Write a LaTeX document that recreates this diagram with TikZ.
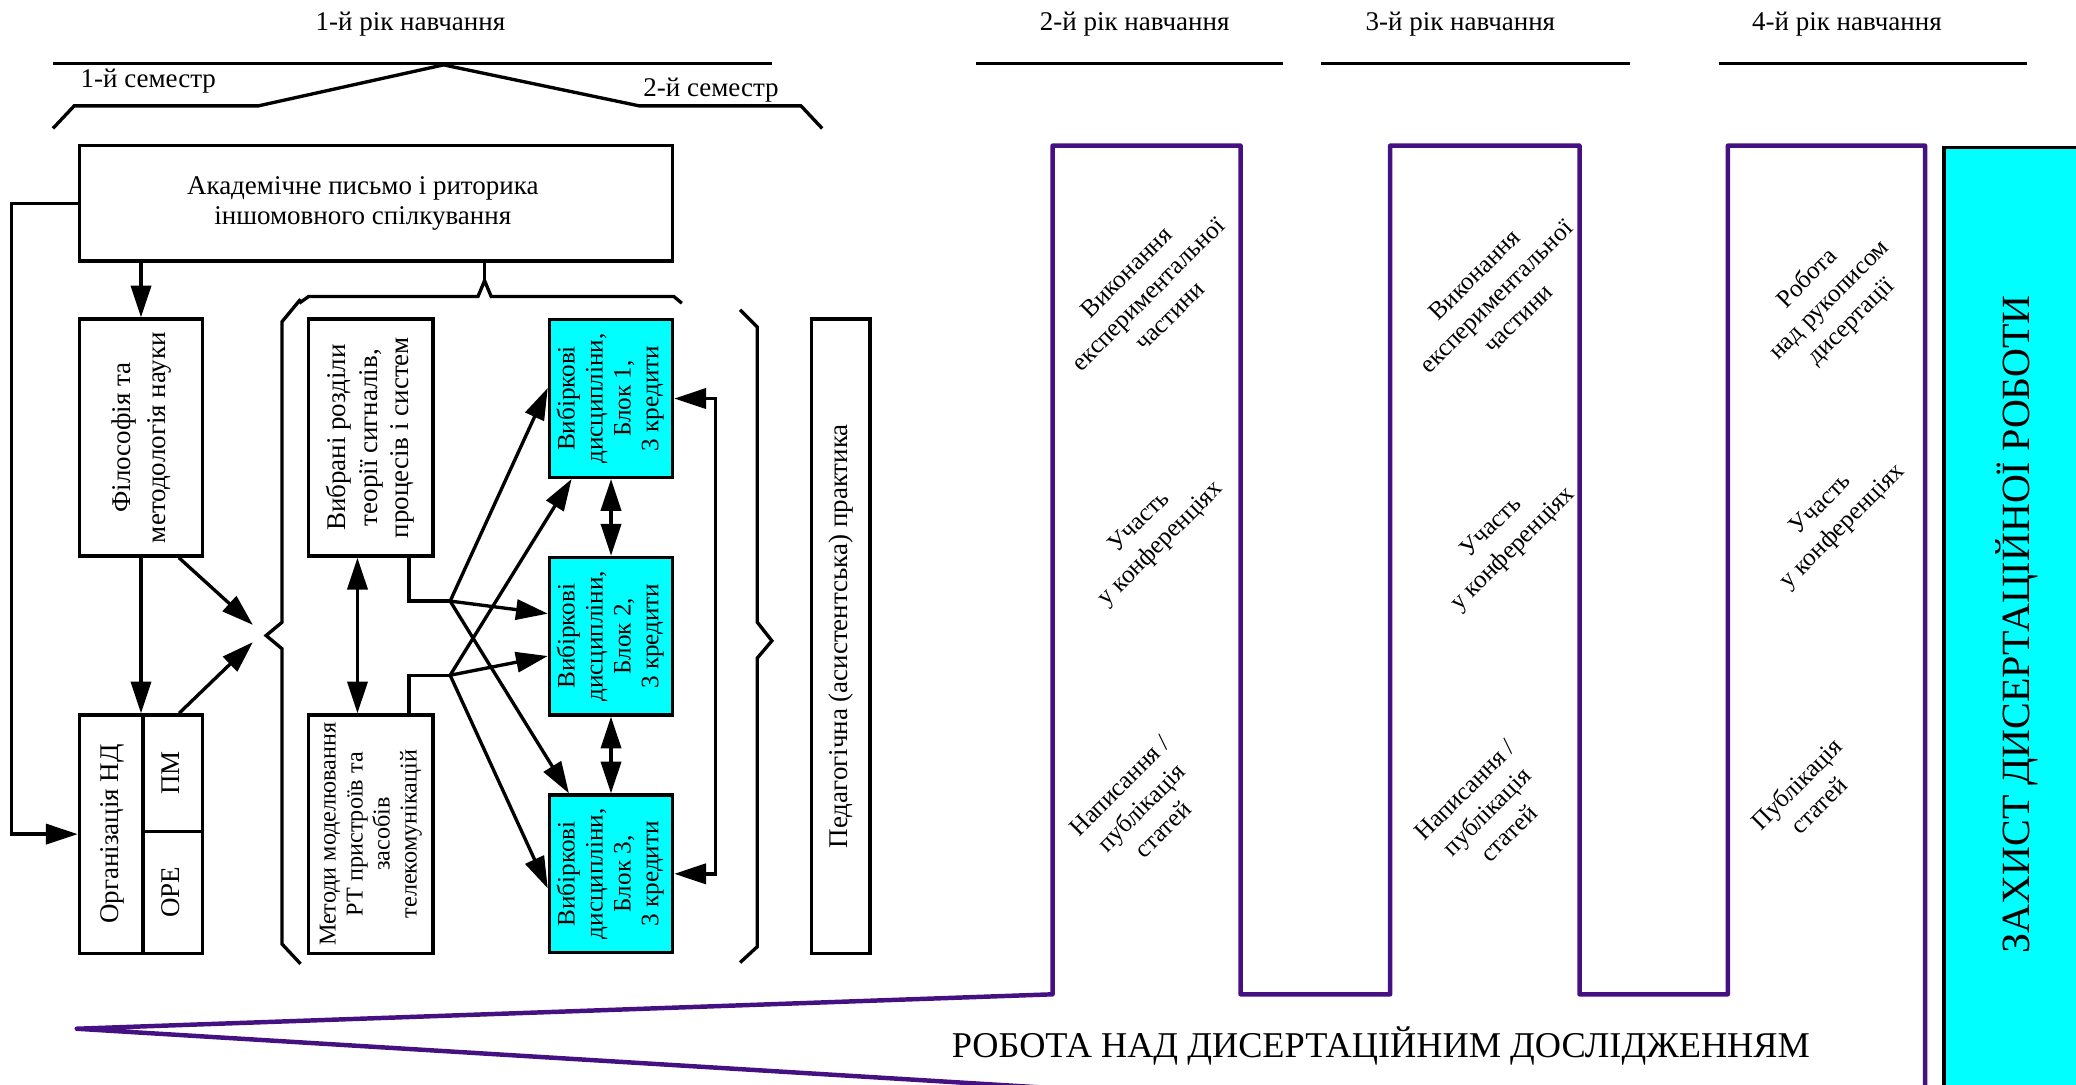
\documentclass[tikz,border=0pt]{standalone}
\usepackage{fontspec}
\setmainfont{Liberation Serif}
\usetikzlibrary{arrows.meta,calc}
\definecolor{bandviolet}{RGB}{68,16,130}
\definecolor{aqua}{RGB}{0,255,255}
\newcommand{\vtext}[1]{\rotatebox{90}{\begin{tabular}{@{}c@{}}#1\end{tabular}}}

\begin{document}
\begin{tikzpicture}[x=0.25mm, y=-0.25mm,
  box/.style={draw, line width=1.8pt, inner sep=0pt, font=\fontsize{14.5}{18.5}\selectfont},
  colbox/.style={box, minimum width=23.25mm, minimum height=44.75mm},
  elect/.style={box, fill=aqua, minimum width=23.25mm, minimum height=29.75mm, font=\fontsize{13.5}{15}\selectfont},
  arr/.style={-{Triangle[length=6mm,width=3.8mm]}, line width=1.8pt},
  darr/.style={{Triangle[length=6mm,width=3.8mm]}-{Triangle[length=6mm,width=3.8mm]}, line width=1.8pt},
  brace/.style={line width=1.8pt},
  band/.style={draw=bandviolet, line width=2.4pt},
  diag/.style={rotate=45, align=center, inner sep=0pt, font=\fontsize{13.5}{16.5}\selectfont},
  head/.style={inner sep=0pt, font=\fontsize{14.5}{17}\selectfont}]

\useasboundingbox (0,0) rectangle (1568,819);
\clip (0,0) rectangle (1568,819);

% years of study
\node[head] (y1) at (310,18) {1-й рік навчання};
\draw[line width=2pt] (40,48) -- (583,48);
\foreach \n/\x/\a/\b in {2/857/737/969, 3/1103/998/1231, 4/1395/1298/1531}{
  \node[head] (y\n) at (\x,18) {\n-й рік навчання};
  \draw[line width=2pt] (\a,48) -- (\b,48);
}

% semesters
\draw[brace] (40,97) -- (56,80) -- (195,80) -- (335,49) -- (483,80) -- (605,80) -- (621,97);
\node[head] (sem1) at (112,61) {1-й семестр};
\node[head] (sem2) at (537,68) {2-й семестр};

% first year
\node[box, minimum width=112mm, minimum height=21.75mm, align=center, font=\fontsize{14.5}{16}\selectfont] (akad) at (284,153.5)
  {\hspace*{-5mm}Академічне письмо і риторика\\\hspace*{-5mm}іншомовного спілкування};
\node[colbox] (filos) at (106.5,330.5) {\vtext{Філософія та\\методологія науки}};
\node[box, minimum width=12mm, minimum height=45mm] (org) at (84,630) {\vtext{Організація НД}};
\node[box, minimum width=11.25mm, minimum height=22mm] (pm) at (130.5,584) {\vtext{ПМ}};
\node[box, minimum width=11.25mm, minimum height=23mm] (ore) at (130.5,674) {\vtext{ОРЕ}};
\node[colbox, minimum width=23.5mm, font=\fontsize{14.5}{17}\selectfont] (vybr) at (280,330.5)
  {\vtext{Вибрані розділи\\теорії сигналів,\\процесів і систем}};
\node[colbox, minimum width=23.5mm, minimum height=45mm, font=\fontsize{13}{14.5}\selectfont] (metod) at (280,630)
  {\vtext{Методи моделювання\\РТ пристроїв та\\засобів\\телекомунікацій}};
\node[elect] (blk1) at (461.5,301) {\vtext{Вибіркові\\дисципліни,\\Блок 1,\\3 кредити}};
\node[elect] (blk2) at (461.5,480.5) {\vtext{Вибіркові\\дисципліни,\\Блок 2,\\3 кредити}};
\node[elect] (blk3) at (461.5,660) {\vtext{Вибіркові\\дисципліни,\\Блок 3,\\3 кредити}};
\node[box, minimum width=11mm, minimum height=119.75mm] (ped) at (635,480.5)
  {\vtext{Педагогічна (асистентська) практика}};

% braces
\coordinate (lbr) at (201,480);
\coordinate (tbr) at (366,212);
\draw[brace] (227,226) -- (213,243) -- (213,470) -- (lbr) -- (213,490) -- (213,713) -- (227,728);
\draw[brace] (559,234) -- (572,247) -- (572,470) -- (583,484) -- (572,497) -- (572,715) -- (559,727);
\draw[brace] (226,229) -- (233,224) -- (361,224) -- (tbr) -- (371,224) -- (509,224) -- (515,229);
\draw[brace] (tbr) -- (tbr |- akad.south);

% arrows
\draw[arr] (filos.north |- akad.south) -- (filos.north);
\draw[arr] (filos) -- (filos |- org.north);
\draw[arr] (akad.west) -- ++(-50,0) |- (org.west);
\draw[arr] ($(filos.south)!0.6!(filos.south east)$) -- ($(lbr)+(-10,-8)$);
\draw[arr] ($(pm.north west)!0.6!(pm.north east)$) -- ($(lbr)+(-10,5)$);
\draw[darr] ($(vybr.south)+(-10,0)$) -- ($(metod.north)+(-10,0)$);
\draw[darr] (blk1) -- (blk2);
\draw[darr] (blk2) -- (blk3);
\draw[darr] (blk1.east) -- ++(31,0) |- (blk3.east);

\coordinate (jA) at (340,454);
\coordinate (jB) at (340,510);
\draw[line width=1.8pt] ($(vybr.south)!0.6!(vybr.south east)$) |- (jA);
\draw[line width=1.8pt] ($(metod.north)!0.6!(metod.north east)$) |- (jB);
\draw[arr] (jA) -- ($(blk1.west)+(0,-8)$);
\draw[arr] (jA) -- ($(blk2.west)+(0,-17)$);
\draw[arr] (jA) -- ($(blk3.north west)+(16,0)$);
\draw[arr] (jB) -- ($(blk1.south west)+(18,0)$);
\draw[arr] (jB) -- ($(blk2.west)+(0,15)$);
\draw[arr] (jB) -- ($(blk3.west)+(0,11)$);

% dissertation research
\draw[band, line join=round] (1454,862) -- (58,777) -- (795,751) -- (795,110) -- (937,110) -- (937,751)
  -- (1050,751) -- (1050,110) -- (1193,110) -- (1193,751) -- (1305,751) -- (1305,110) -- (1454,110) -- cycle;
\node[inner sep=0pt, font=\fontsize{19.5}{22}\selectfont] (research) at (1043,790)
  {РОБОТА НАД ДИСЕРТАЦІЙНИМ ДОСЛІДЖЕННЯМ};

\node[diag] (c2a) at (867,222) {Виконання\\експериментальної\\частини};
\node[diag] (c2b) at (869,403) {Участь\\у конференціях};
\node[diag] (c2c) at (862,610) {Написання /\\публікація\\статей};
\node[diag] (c3a) at (1130,224) {Виконання\\експериментальної\\частини};
\node[diag] (c3b) at (1135,407) {Участь\\у конференціях};
\node[diag] (c3c) at (1123,613) {Написання /\\публікація\\статей};
\node[diag] (c4a) at (1382,227) {Робота\\над рукописом\\дисертації};
\node[diag] (c4b) at (1384,390) {Участь\\у конференціях};
\node[diag] (c4c) at (1365,600) {Публікація\\статей};

% defence
\node[draw, line width=2pt, fill=aqua, minimum width=28.25mm, minimum height=180mm, inner sep=0pt,
  anchor=north west, font=\fontsize{21.5}{24}\selectfont] (defence) at (1467,110)
  {\vtext{ЗАХИСТ ДИСЕРТАЦІЙНОЇ РОБОТИ}};
\end{tikzpicture}
\end{document}
